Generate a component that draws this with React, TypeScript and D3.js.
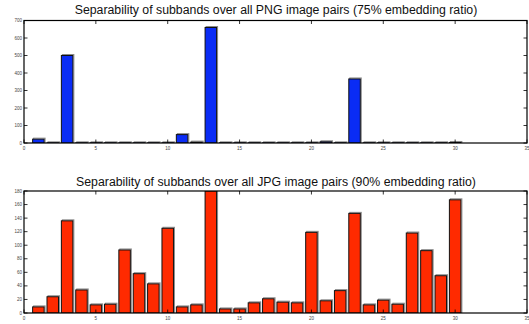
import React from 'react';
import * as d3 from 'd3';

const subbands = d3.range(1, 31);
const pngValues = [22, 1, 500, 1, 1, 1, 1, 1, 1, 1, 48, 5, 660, 1, 1, 1, 1, 1, 1, 1, 7, 1, 366, 1, 1, 1, 1, 1, 1, 3];
const jpgValues = [9, 24, 136, 34, 12, 13, 93, 58, 43, 125, 9, 12, 180, 6, 6, 15, 21, 16, 15, 119, 18, 33, 147, 12, 19, 13, 118, 92, 55, 167];
const xTicks = [0, 5, 10, 15, 20, 25, 30, 35];
const pngYTicks = [0, 100, 200, 300, 400, 500, 600, 700];
const jpgYTicks = [0, 20, 40, 60, 80, 100, 120, 140, 160, 180];

const W = 529;
const H = 324;
const left = 24;
const right = 527;

type PanelProps = {
  title: string;
  values: number[];
  yMax: number;
  yTicks: number[];
  top: number;
  bottom: number;
  titleY: number;
  fill: string;
};

const Panel = ({ title, values, yMax, yTicks, top, bottom, titleY, fill }: PanelProps) => {
  const x = d3.scaleLinear().domain([0, 35]).range([left, right]);
  const y = d3.scaleLinear().domain([0, yMax]).range([bottom, top]);
  const bw = (x(0.8) - x(0));
  const tick = 3.5;
  const clipId = `clip-${top}`;
  return (
    <g>
      <text x={276} y={titleY} textAnchor="middle" fontSize={12.3}
        fontFamily="'Liberation Sans', Arial, sans-serif" fill="#111">{title}</text>
      <defs>
        <clipPath id={clipId}>
          <rect x={left} y={top} width={right - left} height={bottom - top} />
        </clipPath>
      </defs>
      <g clipPath={`url(#${clipId})`}>
        {values.map((v, i) => {
          const xc = x(subbands[i]);
          const yt = y(v);
          return (
            <g key={i}>
              <rect x={xc - bw / 2 + 1} y={yt - 1} width={bw} height={bottom - yt + 1}
                fill="none" stroke="#8a8a8a" strokeWidth={1} />
              <rect x={xc - bw / 2} y={yt} width={bw} height={bottom - yt}
                fill={fill} stroke="#111" strokeWidth={1} />
            </g>
          );
        })}
      </g>
      <rect x={left} y={top} width={right - left} height={bottom - top} fill="none" stroke="#000" strokeWidth={1.2} />
      {xTicks.map(t => (
        <g key={`x${t}`}>
          <line x1={x(t)} x2={x(t)} y1={bottom} y2={bottom - tick} stroke="#000" strokeWidth={0.8} />
          <line x1={x(t)} x2={x(t)} y1={top} y2={top + tick} stroke="#000" strokeWidth={0.8} />
          <text x={x(t)} y={bottom + 7} textAnchor="middle" fontSize={4.5}
            fontFamily="'Liberation Sans', Arial, sans-serif" fill="#444">{t}</text>
        </g>
      ))}
      {yTicks.map(t => (
        <g key={`y${t}`}>
          <line x1={left} x2={left + tick} y1={y(t)} y2={y(t)} stroke="#000" strokeWidth={0.8} />
          <line x1={right} x2={right - tick} y1={y(t)} y2={y(t)} stroke="#000" strokeWidth={0.8} />
          <text x={left - 2} y={y(t) + 1.5} textAnchor="end" fontSize={4.5}
            fontFamily="'Liberation Sans', Arial, sans-serif" fill="#444">{t}</text>
        </g>
      ))}
    </g>
  );
};

const App = () => (
  <svg width={W} height={H} style={{ position: 'absolute', left: 0, top: 0, background: '#fff' }}>
    <Panel title="Separability of subbands over all PNG image pairs (75% embedding ratio)"
      values={pngValues} yMax={700} yTicks={pngYTicks} top={20.5} bottom={143}
      titleY={13.5} fill="#0a2cf5" />
    <Panel title="Separability of subbands over all JPG image pairs (90% embedding ratio)"
      values={jpgValues} yMax={180} yTicks={jpgYTicks} top={191} bottom={313}
      titleY={185.5} fill="#ff2a00" />
  </svg>
);

export default App;
